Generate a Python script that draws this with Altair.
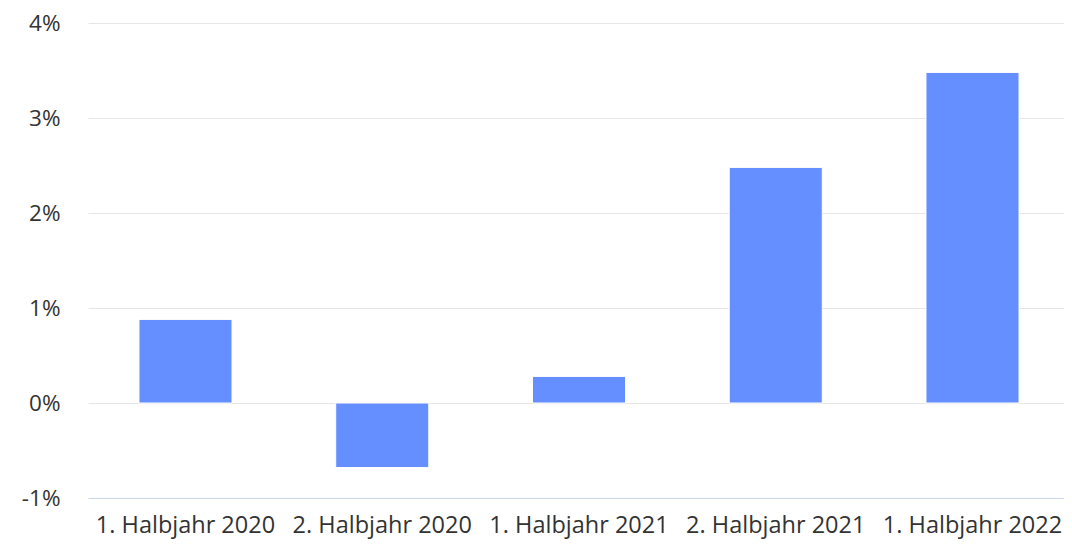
import altair as alt
import pandas as pd

categories = ["1. Halbjahr 2020", "2. Halbjahr 2020", "1. Halbjahr 2021", "2. Halbjahr 2021", "1. Halbjahr 2022"]
values = [0.88, -0.68, 0.28, 2.48, 3.48]
y_ticks = [-1, 0, 1, 2, 3, 4]

df = pd.DataFrame({"Zeitraum": categories, "Wert": values})

FONT = "Open Sans"
FS = 23.5

bars = alt.Chart(df).mark_bar(color="#658fff", stroke="#ffffff", strokeWidth=1).encode(
    x=alt.X("Zeitraum:N", sort=categories, title=None,
            scale=alt.Scale(paddingInner=0.527, paddingOuter=0.259, range=[0, 982]),
            axis=alt.Axis(labelAngle=0, ticks=False, domain=True, domainColor="#ccd6eb",
                          domainWidth=1, labelPadding=15, labelFontSize=FS,
                          labelColor="#333333", labelFont=FONT, grid=False)),
    y=alt.Y("Wert:Q", title=None,
            scale=alt.Scale(domain=[-1, 4], nice=False, zero=True),
            axis=alt.Axis(values=y_ticks, labelExpr="datum.value + '%'", ticks=False,
                          domain=False, gridColor="#e6e6e6", gridWidth=1,
                          labelPadding=28, labelFontSize=22.5, labelColor="#333333",
                          labelFont=FONT)),
)

chart = bars.properties(
    width=976, height=475,
    background="white",
    autosize=alt.AutoSizeParams(type="none"),
    padding={"left": 80, "top": 15, "right": 0, "bottom": 41},
).configure_view(stroke=None)

chart.save("out.html", embed_options={"renderer": "svg", "actions": False})
